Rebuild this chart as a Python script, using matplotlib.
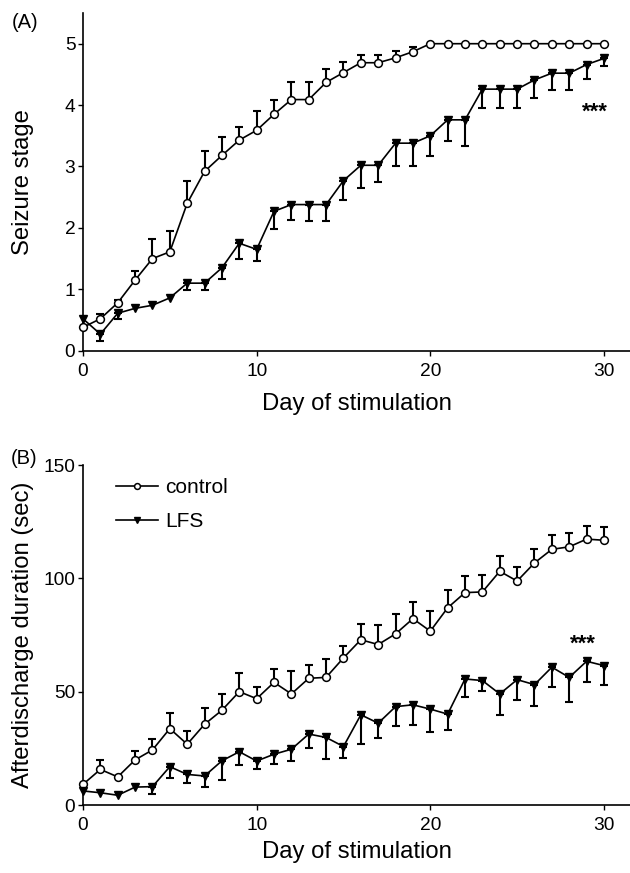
import numpy as np
import matplotlib
matplotlib.use("Agg")
import matplotlib.pyplot as plt

plt.rcParams['font.family'] = ['Liberation Sans', 'DejaVu Sans']

# ---------------- data ----------------
days = list(range(0, 31))

# Panel A: seizure stage
stage_control = [0.38, 0.52, 0.78, 1.15, 1.50, 1.61, 2.40, 2.92, 3.18, 3.43, 3.59,
                 3.85, 4.09, 4.09, 4.37, 4.53, 4.69, 4.69, 4.77, 4.87, 5.0,
                 5.0, 5.0, 5.0, 5.0, 5.0, 5.0, 5.0, 5.0, 5.0, 5.0]
stage_control_err = [0.0, 0.07, 0.05, 0.15, 0.32, 0.34, 0.36, 0.33, 0.30, 0.22, 0.31,
                     0.23, 0.29, 0.29, 0.22, 0.18, 0.13, 0.13, 0.11, 0.08, 0.0,
                     0.0, 0.0, 0.0, 0.0, 0.0, 0.0, 0.0, 0.0, 0.0, 0.0]
stage_lfs = [0.52, 0.27, 0.61, 0.69, 0.74, 0.86, 1.10, 1.10, 1.35, 1.75, 1.65,
             2.27, 2.38, 2.38, 2.38, 2.77, 3.02, 3.02, 3.38, 3.38, 3.50,
             3.76, 3.76, 4.26, 4.26, 4.26, 4.41, 4.52, 4.52, 4.66, 4.76]
stage_lfs_err = [0.0, 0.12, 0.10, 0.0, 0.0, 0.0, 0.11, 0.11, 0.18, 0.26, 0.19,
                 0.28, 0.25, 0.27, 0.26, 0.31, 0.37, 0.28, 0.37, 0.37, 0.33,
                 0.35, 0.43, 0.31, 0.31, 0.31, 0.29, 0.28, 0.28, 0.24, 0.12]

# Panel B: afterdischarge duration (sec)
ad_control = [9.1, 15.7, 12.4, 19.9, 24.3, 33.7, 26.8, 35.6, 41.8, 50.0, 46.9,
              54.1, 49.0, 55.9, 56.3, 64.9, 72.9, 70.8, 75.5, 82.2, 76.7,
              87.0, 93.7, 94.0, 103.1, 98.8, 106.8, 112.8, 113.9, 117.3, 116.8]
ad_control_err = [0.0, 4.0, 0.0, 3.9, 4.7, 6.7, 5.7, 7.3, 7.3, 8.4, 5.3,
                  5.9, 10.0, 5.9, 8.0, 5.3, 7.0, 8.8, 8.6, 7.3, 8.8,
                  8.0, 7.3, 7.6, 6.6, 6.2, 6.3, 6.1, 5.9, 5.7, 5.9]
ad_lfs = [6.2, 5.4, 4.3, 7.9, 8.1, 16.9, 13.5, 12.8, 19.5, 23.5, 19.4,
          22.4, 24.6, 31.3, 29.8, 25.8, 39.8, 36.1, 43.4, 44.2, 42.3,
          40.1, 55.6, 54.9, 49.0, 55.3, 53.1, 60.8, 56.3, 63.4, 61.5]
ad_lfs_err = [0.0, 0.0, 0.0, 0.0, 3.4, 5.1, 3.6, 4.9, 8.5, 6.0, 3.7,
              4.4, 5.4, 6.2, 9.6, 5.2, 13.0, 6.7, 8.4, 8.9, 9.9,
              7.1, 8.1, 4.8, 9.2, 8.8, 9.6, 8.6, 10.7, 9.3, 8.4]

series_names = ["control", "LFS"]
xlabel = "Day of stimulation"
ylabel_a = "Seizure stage"
ylabel_b = "Afterdischarge duration (sec)"
xticks = [0, 10, 20, 30]
yticks_a = [0, 1, 2, 3, 4, 5]
yticks_b = [0, 50, 100, 150]

# ---------------- figure ----------------
W, H = 630, 873
fig = plt.figure(figsize=(W / 100, H / 100), dpi=100)

def px_axes(left, top, right, bottom):
    return fig.add_axes([left / W, 1 - bottom / H, (right - left) / W, (bottom - top) / H])

axA = px_axes(83, 13, 630, 350.7)
axB = px_axes(83, 465, 630, 805)

LW = 1.2
def draw(ax, ctrl, ctrl_err, lfs, lfs_err):
    x = np.array(days, dtype=float)
    c = np.array(ctrl); ce = np.array(ctrl_err)
    l = np.array(lfs); le = np.array(lfs_err)
    m = ce > 0
    ax.errorbar(x[m], c[m], yerr=[np.zeros(m.sum()), ce[m]], fmt='none',
                ecolor='black', elinewidth=1.5, capsize=3.0, capthick=1.5,
                zorder=2, clip_on=False)
    m = le > 0
    ax.errorbar(x[m], l[m], yerr=[le[m], np.zeros(m.sum())], fmt='none',
                ecolor='black', elinewidth=1.5, capsize=3.0, capthick=1.5,
                zorder=2, clip_on=False)
    h1, = ax.plot(x, c, '-', color='black', lw=LW, marker='o', markersize=5.6,
                  markerfacecolor='white', markeredgecolor='black',
                  markeredgewidth=1.1, zorder=3, clip_on=False)
    h2, = ax.plot(x, l, '-', color='black', lw=LW, marker='v', markersize=5.8,
                  markerfacecolor='black', markeredgecolor='black',
                  zorder=4, clip_on=False)
    return h1, h2

def style(ax, ylim, yticks):
    ax.set_xlim(0, 31.5)
    ax.set_ylim(*ylim)
    ax.set_xticks(xticks)
    ax.set_yticks(yticks)
    for s in ['top', 'right']:
        ax.spines[s].set_visible(False)
    for s in ['left', 'bottom']:
        ax.spines[s].set_linewidth(1.2)
    ax.tick_params(axis='both', direction='out', length=3.5, width=1.0,
                   labelsize=13.8)
    ax.tick_params(axis='x', pad=5.5)
    ax.tick_params(axis='y', pad=2)

draw(axA, stage_control, stage_control_err, stage_lfs, stage_lfs_err)
style(axA, (0, 5.5), yticks_a)
axA.set_xlabel(xlabel, fontsize=17.2)
axA.set_ylabel(ylabel_a, fontsize=17.2)
axA.xaxis.set_label_coords(0.5, (351 - 393) / 337.7)
axA.yaxis.set_label_coords((34 - 83) / 547, 0.5)
axA.text(29.5, 3.89, "***", ha='center', va='center', fontsize=16,
         fontweight='bold')

h1, h2 = draw(axB, ad_control, ad_control_err, ad_lfs, ad_lfs_err)
style(axB, (0, 150), yticks_b)
axB.set_xlabel(xlabel, fontsize=17.2)
axB.set_ylabel(ylabel_b, fontsize=17.2)
axB.xaxis.set_label_coords(0.5, (805 - 841) / 340)
axB.yaxis.set_label_coords((34 - 83) / 547, 0.5)
axB.text(28.8, 70.8, "***", ha='center', va='center', fontsize=16,
         fontweight='bold')

leg = axB.legend([h1, h2], series_names, loc='upper left',
                 bbox_to_anchor=((116 - 83) / 547, 1 - (478 - 465) / 340),
                 frameon=False, fontsize=15, handlelength=2.0,
                 handletextpad=0.35, labelspacing=0.72, borderpad=0,
                 borderaxespad=0, markerscale=0.75)

fig.text(25 / W, 1 - 23 / H, "(A)", ha='center', va='center', fontsize=14.5)
fig.text(24 / W, 1 - 458 / H, "(B)", ha='center', va='center', fontsize=14.5)

fig.savefig("out.png", dpi=100)
